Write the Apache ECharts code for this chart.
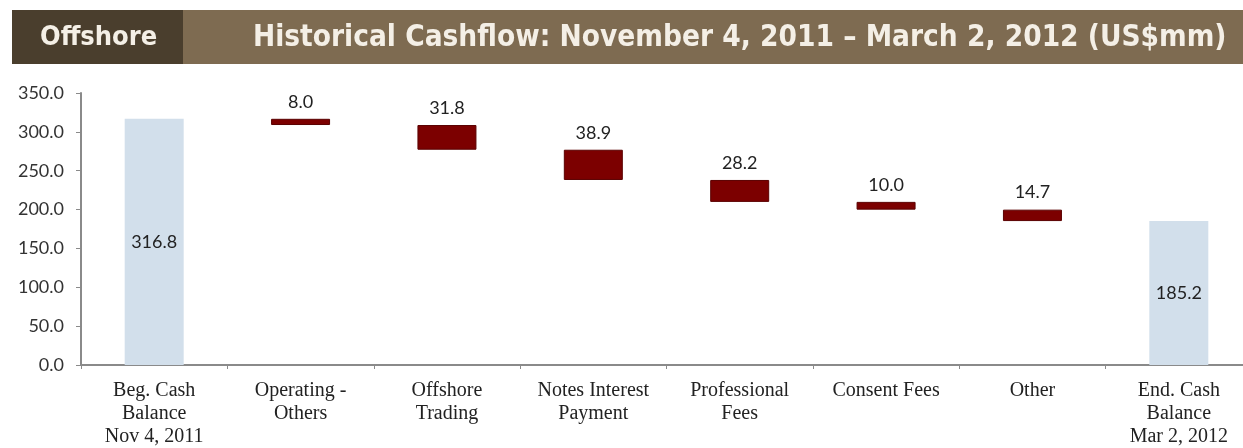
<!DOCTYPE html>
<html>
<head>
<meta charset="utf-8">
<script src="https://cdn.jsdelivr.net/npm/echarts@6/dist/echarts.min.js"></script>
<style>
  html, body { margin: 0; padding: 0; background: #ffffff; overflow: hidden; }
  #chart { width: 1262px; height: 448px; }
</style>
</head>
<body>
<div id="chart"></div>
<script>
// ---- data ----
var headerLeft = 'Offshore';
var headerTitle = 'Historical Cashflow: November 4, 2011 \u2013 March 2, 2012 (US$mm)';
var categories = [
  'Beg. Cash\nBalance\nNov 4, 2011',
  'Operating -\nOthers',
  'Offshore\nTrading',
  'Notes Interest\nPayment',
  'Professional\nFees',
  'Consent Fees',
  'Other',
  'End. Cash\nBalance\nMar 2, 2012'
];
var begBalance = 316.8;
var outflows = [8.0, 31.8, 38.9, 28.2, 10.0, 14.7];
var endBalance = 185.2;
var yTicks = [0, 50, 100, 150, 200, 250, 300, 350];

// ---- build waterfall from the values ----
var baseData = [0];
var barData = [{ value: begBalance, kind: 'total' }];
var running = begBalance;
outflows.forEach(function (v) {
  running = running - v;
  baseData.push(running);
  barData.push({ value: v, kind: 'flow' });
});
baseData.push(0);
barData.push({ value: endBalance, kind: 'total' });

var totalColor = '#d2dfeb';
var flowColor = '#7c0000';
var headFamily = '"DejaVu Sans Condensed", "Liberation Sans Narrow", sans-serif';

var chart = echarts.init(document.getElementById('chart'), null, { renderer: 'canvas' });
chart.setOption({
  animation: false,
  backgroundColor: '#ffffff',
  graphic: [
    { type: 'rect', shape: { x: 12, y: 10, width: 1250, height: 54 }, style: { fill: '#7e6b51' } },
    { type: 'rect', shape: { x: 12, y: 10, width: 171, height: 54 }, style: { fill: '#4a3e2d' } },
    { type: 'text', x: 40, y: 38, style: { text: headerLeft, fill: '#f4efe6', font: 'bold 27px ' + headFamily, textVerticalAlign: 'middle' } },
    { type: 'text', x: 253, y: 38, style: { text: headerTitle, fill: '#f4efe6', font: 'bold 29.5px ' + headFamily, textVerticalAlign: 'middle' } }
  ],
  grid: { left: 81, width: 1171, top: 93, bottom: 82, containLabel: false },
  xAxis: {
    type: 'category',
    data: categories,
    boundaryGap: true,
    axisLine: { lineStyle: { color: '#8a8a8a', width: 2 } },
    axisTick: { show: true, alignWithLabel: false, length: 4, lineStyle: { color: '#8a8a8a' } },
    axisLabel: {
      interval: 0,
      color: '#222',
      fontFamily: '"Liberation Serif", "DejaVu Serif", serif',
      fontSize: 20,
      lineHeight: 23,
      margin: 14
    }
  },
  yAxis: {
    type: 'value',
    min: 0,
    max: 350,
    interval: 50,
    splitLine: { show: false },
    axisLine: { show: true, lineStyle: { color: '#8a8a8a', width: 2 } },
    axisTick: { show: true, length: 5, lineStyle: { color: '#8a8a8a' } },
    axisLabel: {
      color: '#333',
      fontFamily: 'Lato, "Open Sans", sans-serif',
      fontSize: 18,
      margin: 17,
      formatter: function (v) { return yTicks.indexOf(v) >= 0 ? v.toFixed(1) : ''; }
    }
  },
  series: [
    {
      type: 'bar',
      stack: 'wf',
      data: baseData,
      itemStyle: { color: 'transparent' },
      barWidth: 59,
      silent: true
    },
    {
      type: 'bar',
      stack: 'wf',
      barWidth: 59,
      data: barData.map(function (d) {
        var isTotal = d.kind === 'total';
        return {
          value: d.value,
          itemStyle: isTotal ? { color: totalColor } : { color: flowColor, borderColor: '#5a0000', borderWidth: 1 },
          label: {
            show: true,
            position: isTotal ? 'inside' : 'top',
            distance: 8,
            color: '#222',
            fontFamily: 'Lato, "Open Sans", sans-serif',
            fontSize: 18,
            formatter: function (p) { return p.value.toFixed(1); }
          }
        };
      })
    }
  ]
});
</script>
</body>
</html>
